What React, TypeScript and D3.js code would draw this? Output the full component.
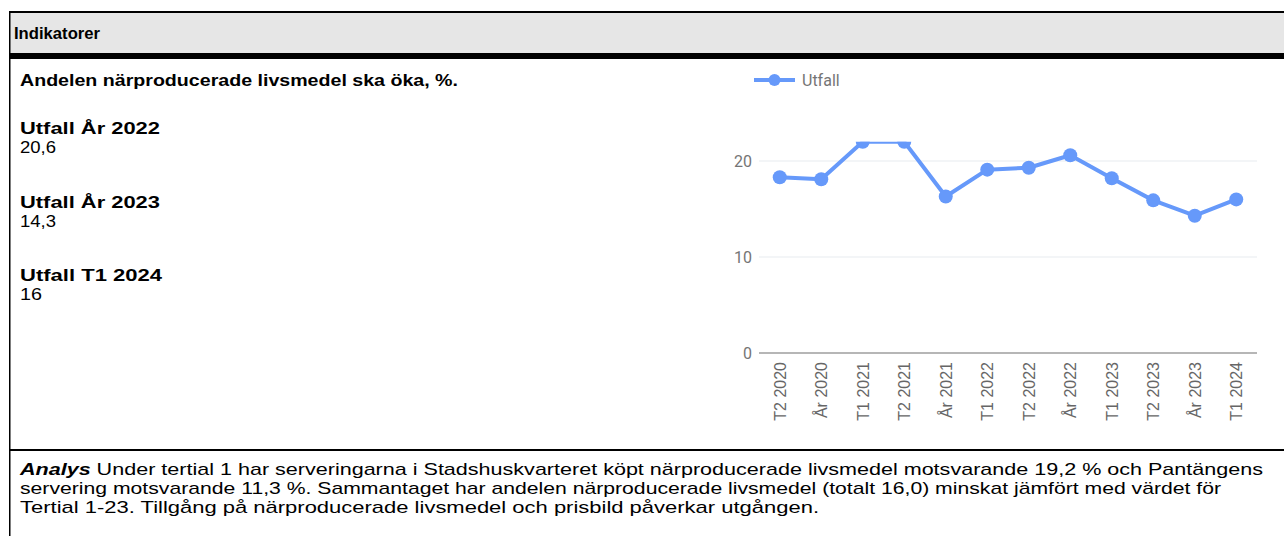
import React from "react";
import * as d3 from "d3";

const categories = ["T2 2020", "År 2020", "T1 2021", "T2 2021", "År 2021", "T1 2022", "T2 2022", "År 2022", "T1 2023", "T2 2023", "År 2023", "T1 2024"];
const values = [18.3, 18.1, 22.0, 22.0, 16.3, 19.1, 19.3, 20.6, 18.2, 15.9, 14.3, 16.0];
const yTicks = [0, 10, 20];
const seriesName = "Utfall";

const headerTitle = "Indikatorer";
const indicatorTitle = "Andelen närproducerade livsmedel ska öka, %.";
const outcomeLabels = ["Utfall År 2022", "Utfall År 2023", "Utfall T1 2024"];
const outcomeValues = ["20,6", "14,3", "16"];
const analysisLead = "Analys";
const analysisLines = [
  " Under tertial 1 har serveringarna i Stadshuskvarteret köpt närproducerade livsmedel motsvarande 19,2 % och Pantängens",
  "servering motsvarande 11,3 %. Sammantaget har andelen närproducerade livsmedel (totalt 16,0) minskat jämfört med värdet för",
  "Tertial 1-23. Tillgång på närproducerade livsmedel och prisbild påverkar utgången.",
];

const W = 1284;
const H = 536;
const BLUE = "#6699fa";
const ARIAL = "'Liberation Sans', Arial, sans-serif";
const ROBOTO = "Roboto, 'Liberation Sans', Arial, sans-serif";

// measured text extents in the reference layout
const analysisWidths = [1243, 1201, 799];
const outcomeLabelWidths = [140, 140, 142];
const outcomeValueWidths = [36, 36, 22];

export default function App() {
  const x = d3.scalePoint<string>().domain(categories).range([759, 1257]).padding(0.5);
  const y = d3.scaleLinear().domain([0, 20]).range([353, 161]);
  const clipTop = y(22);
  const line = d3.line<number>().x((_, i) => x(categories[i]) as number).y((d) => y(d));

  return (
    <svg width={W} height={H} style={{ position: "absolute", left: 0, top: 0, background: "#fff" }}>
      <defs>
        <clipPath id="plotClip">
          <rect x={740} y={clipTop} width={540} height={353 - clipTop + 10} />
        </clipPath>
      </defs>
      {/* table frame */}
      <rect x={10} y={13} width={W - 10} height={40} fill="#e6e6e6" />
      <rect x={9} y={11} width={W - 9} height={2} fill="#000" />
      <rect x={9} y={53} width={W - 9} height={6} fill="#000" />
      <rect x={9} y={11} width={1.5} height={H - 11} fill="#000" />
      <rect x={9} y={449} width={W - 9} height={2} fill="#000" />
      <text x={14} y={39} fontFamily={ARIAL} fontWeight="bold" fontSize={17} textLength={86} lengthAdjust="spacingAndGlyphs" fill="#000">{headerTitle}</text>

      {/* left panel */}
      <text x={20} y={86} fontFamily={ARIAL} fontWeight="bold" fontSize={17} textLength={438} lengthAdjust="spacingAndGlyphs" fill="#000">{indicatorTitle}</text>
      {outcomeLabels.map((lab, i) => (
        <g key={lab}>
          <text x={20} y={134 + i * 73.5} fontFamily={ARIAL} fontWeight="bold" fontSize={17} textLength={outcomeLabelWidths[i]} lengthAdjust="spacingAndGlyphs" fill="#000">{lab}</text>
          <text x={20} y={153 + i * 73.5} fontFamily={ARIAL} fontSize={17} textLength={outcomeValueWidths[i]} lengthAdjust="spacingAndGlyphs" fill="#000">{outcomeValues[i]}</text>
        </g>
      ))}

      {/* analysis */}
      {analysisLines.map((ln, i) => (
        <text key={i} x={20} y={475 + i * 19} fontFamily={ARIAL} fontSize={17} textLength={analysisWidths[i]} lengthAdjust="spacingAndGlyphs" fill="#000">
          {i === 0 && <tspan fontWeight="bold" fontStyle="italic">{analysisLead}</tspan>}
          {ln}
        </text>
      ))}

      {/* legend */}
      <line x1={754} x2={795} y1={80} y2={80} stroke={BLUE} strokeWidth={4} />
      <circle cx={774.5} cy={80} r={6} fill={BLUE} />
      <text x={802} y={86} fontFamily={ROBOTO} fontSize={16} fill="#757575">{seriesName}</text>

      {/* grid */}
      {yTicks.map((t) => (
        <g key={t}>
          <line x1={759} x2={1257} y1={y(t)} y2={y(t)} stroke={t === 0 ? "#9e9e9e" : "#e8ecef"} strokeWidth={t === 0 ? 1.5 : 1.2} />
          <text x={752} y={y(t)} dy="0.36em" textAnchor="end" fontFamily={ROBOTO} fontSize={16} fill="#757575">{t}</text>
        </g>
      ))}

      {/* x labels */}
      {categories.map((c) => (
        <text key={c} transform={`translate(${(x(c) as number) + 6},362) rotate(-90)`} textAnchor="end" fontFamily={ARIAL} fontSize={16} fill="#666">{c}</text>
      ))}

      {/* series */}
      <g clipPath="url(#plotClip)">
        <path d={line(values) || ""} fill="none" stroke={BLUE} strokeWidth={4} strokeLinejoin="round" />
        {values.map((v, i) => (
          <circle key={i} cx={x(categories[i]) as number} cy={y(v)} r={7} fill={BLUE} />
        ))}
      </g>
    </svg>
  );
}
